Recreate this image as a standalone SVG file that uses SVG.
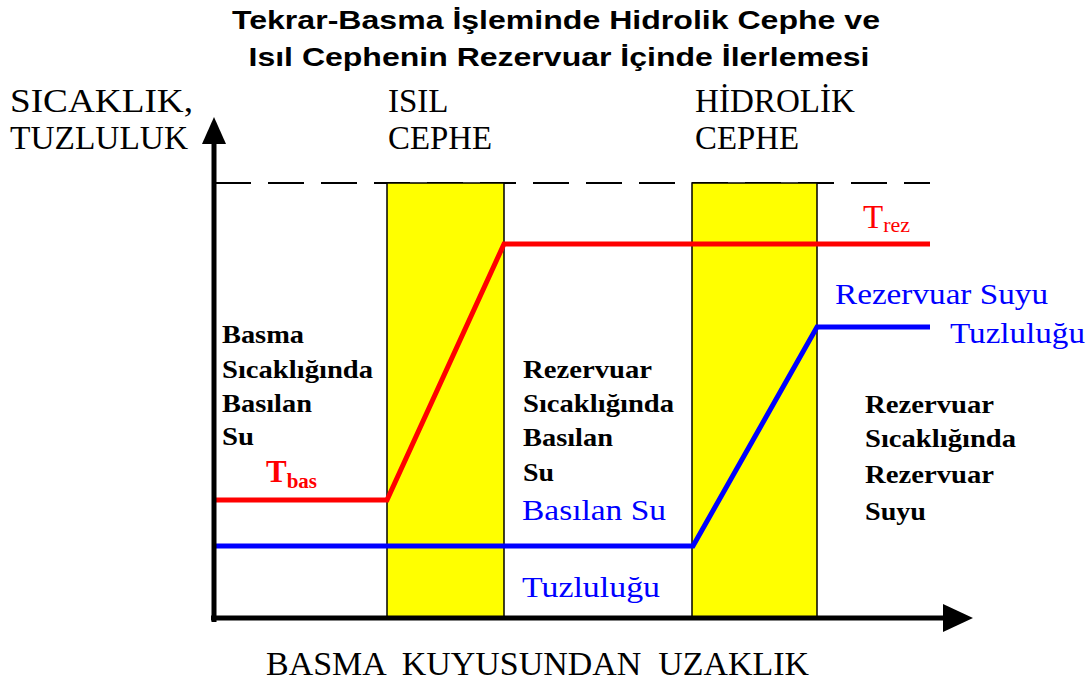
<svg xmlns="http://www.w3.org/2000/svg" width="1092" height="684" viewBox="0 0 1092 684">
<style>
.title{font-family:"Liberation Sans",Arial,sans-serif;font-weight:bold;font-size:25px;fill:#000}
.lab{font-family:"Liberation Serif","Times New Roman",serif;font-size:33px;fill:#000}
.bt{font-family:"Liberation Serif","Times New Roman",serif;font-weight:bold;font-size:26px;fill:#000}
.blue{font-family:"Liberation Serif","Times New Roman",serif;font-size:30px;fill:#0000FF}
.front{fill:#FFFF00;stroke:#000;stroke-width:1.5}
.axis{stroke:#000;stroke-width:5;fill:none}
</style>
<rect width="1092" height="684" fill="#fff"/>
<g id="title">
<text class="title" x="556" y="29" text-anchor="middle" textLength="648" lengthAdjust="spacingAndGlyphs">Tekrar-Basma İşleminde Hidrolik Cephe ve</text>
<text class="title" x="559" y="66" text-anchor="middle" textLength="621" lengthAdjust="spacingAndGlyphs">Isıl Cephenin Rezervuar İçinde İlerlemesi</text>
</g>
<g id="ylabel">
<text class="lab" x="10" y="112" textLength="183" lengthAdjust="spacingAndGlyphs">SICAKLIK,</text>
<text class="lab" x="10" y="149" textLength="178" lengthAdjust="spacingAndGlyphs">TUZLULUK</text>
</g>
<line x1="215" y1="183" x2="930" y2="183" stroke="#000" stroke-width="2" stroke-dasharray="36 17"/>
<g id="isil-cephe">
<rect class="front" x="387" y="183" width="117" height="435"/>
<text class="lab" x="388" y="112">ISIL</text>
<text class="lab" x="388" y="149" textLength="104" lengthAdjust="spacingAndGlyphs">CEPHE</text>
</g>
<g id="hidrolik-cephe">
<rect class="front" x="692" y="183" width="125" height="435"/>
<text class="lab" x="695" y="112" textLength="160" lengthAdjust="spacingAndGlyphs">HİDROLİK</text>
<text class="lab" x="695" y="149" textLength="104" lengthAdjust="spacingAndGlyphs">CEPHE</text>
</g>
<g id="connectors">
<polyline points="215,500 387,500 504,244 930,244" fill="none" stroke="#FF0000" stroke-width="5"/>
<polyline points="215,546 693,546 817,327 930,327" fill="none" stroke="#0000FF" stroke-width="5"/>
</g>
<g id="axes">
<line class="axis" x1="214" y1="140" x2="214" y2="622"/>
<polygon points="214,117 202,144 226,144" fill="#000"/>
<line class="axis" x1="211" y1="618" x2="945" y2="618"/>
<polygon points="973,618 943,604 943,632" fill="#000"/>
<text class="lab" x="266" y="675" xml:space="preserve" textLength="543" lengthAdjust="spacingAndGlyphs">BASMA  KUYUSUNDAN  UZAKLIK</text>
</g>
<g id="region-left">
<text class="bt" x="222" y="343" textLength="82" lengthAdjust="spacingAndGlyphs">Basma</text>
<text class="bt" x="222" y="378" textLength="151" lengthAdjust="spacingAndGlyphs">Sıcaklığında</text>
<text class="bt" x="222" y="412" textLength="90" lengthAdjust="spacingAndGlyphs">Basılan</text>
<text class="bt" x="222" y="445" textLength="32" lengthAdjust="spacingAndGlyphs">Su</text>
<text x="266" y="482" font-family="'Liberation Serif','Times New Roman',serif" font-weight="bold" fill="#FF0000"><tspan font-size="31">T</tspan><tspan font-size="21" dy="6">bas</tspan></text>
</g>
<g id="region-middle">
<text class="bt" x="523" y="378" textLength="129" lengthAdjust="spacingAndGlyphs">Rezervuar</text>
<text class="bt" x="523" y="412" textLength="151" lengthAdjust="spacingAndGlyphs">Sıcaklığında</text>
<text class="bt" x="523" y="446" textLength="90" lengthAdjust="spacingAndGlyphs">Basılan</text>
<text class="bt" x="523" y="481" textLength="31" lengthAdjust="spacingAndGlyphs">Su</text>
<text class="blue" x="522" y="520" textLength="144" lengthAdjust="spacingAndGlyphs">Basılan Su</text>
<text class="blue" x="522" y="597" textLength="138" lengthAdjust="spacingAndGlyphs">Tuzluluğu</text>
</g>
<g id="region-right">
<text class="bt" x="865" y="413" textLength="129" lengthAdjust="spacingAndGlyphs">Rezervuar</text>
<text class="bt" x="865" y="447" textLength="151" lengthAdjust="spacingAndGlyphs">Sıcaklığında</text>
<text class="bt" x="865" y="483" textLength="129" lengthAdjust="spacingAndGlyphs">Rezervuar</text>
<text class="bt" x="865" y="520" textLength="61" lengthAdjust="spacingAndGlyphs">Suyu</text>
<text x="863" y="228" font-family="'Liberation Serif','Times New Roman',serif" fill="#FF0000"><tspan font-size="33">T</tspan><tspan font-size="22" dy="4">rez</tspan></text>
<text class="blue" x="835" y="304" textLength="213" lengthAdjust="spacingAndGlyphs">Rezervuar Suyu</text>
<text class="blue" x="950" y="343" textLength="135" lengthAdjust="spacingAndGlyphs">Tuzluluğu</text>
</g>
</svg>
